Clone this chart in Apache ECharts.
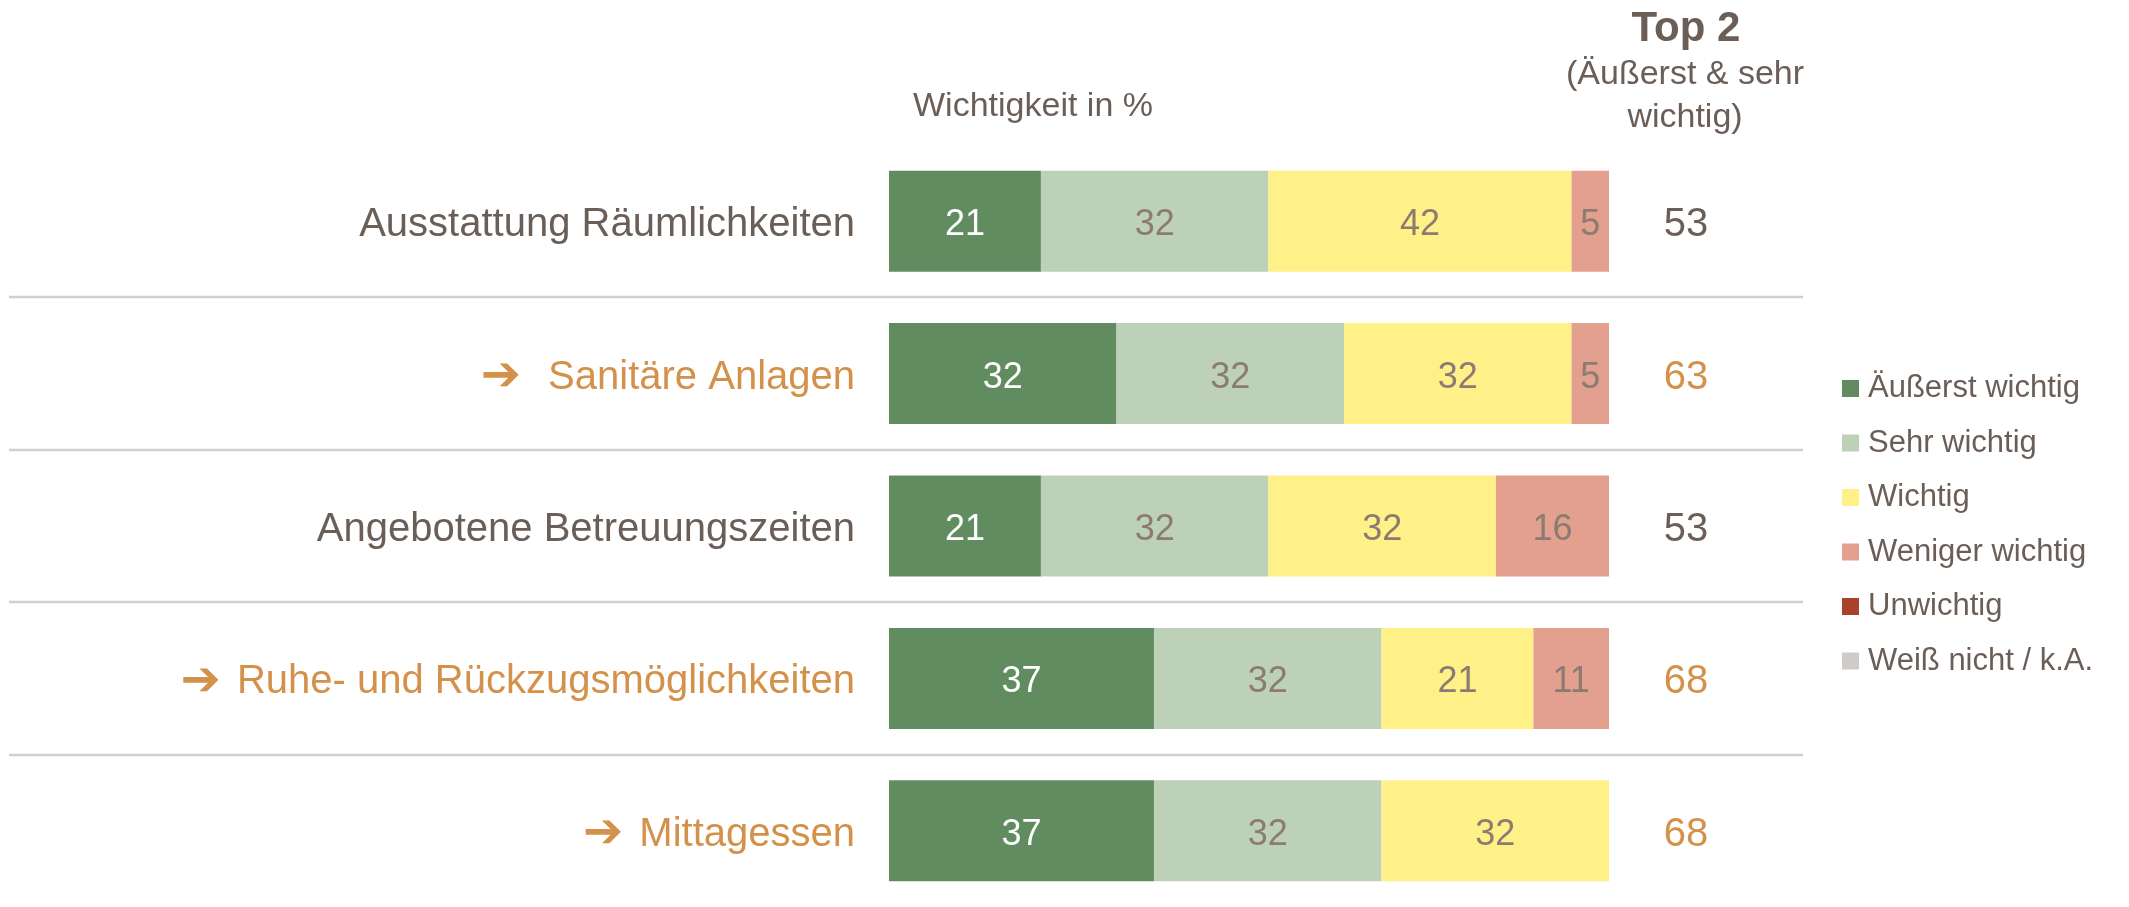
<!DOCTYPE html>
<html>
<head>
<meta charset="utf-8">
<title>Wichtigkeit</title>
<script src="https://cdn.jsdelivr.net/npm/echarts@6/dist/echarts.min.js"></script>
<style>
    html, body { margin: 0; padding: 0; background: #fff; }
    #chart { width: 2129px; height: 907px; }
</style>
</head>
<body>
<div id="chart"></div>
<script>
// Kategorien (von oben nach unten)
var categories = ['Ausstattung Räumlichkeiten', 'Sanitäre Anlagen', 'Angebotene Betreuungszeiten', 'Ruhe- und Rückzugsmöglichkeiten', 'Mittagessen'];
var highlighted = [false, true, false, true, true];
var seriesNames = ['Äußerst wichtig', 'Sehr wichtig', 'Wichtig', 'Weniger wichtig', 'Unwichtig', 'Weiß nicht / k.A.'];

// Anteile in %
var aeusserstWichtig = [21.1, 31.6, 21.1, 36.8, 36.8];
var sehrWichtig = [31.6, 31.6, 31.6, 31.6, 31.6];
var wichtig = [42.1, 31.6, 31.6, 21.1, 31.6];
var wenigerWichtig = [5.3, 5.3, 15.8, 10.5, 0];
var unwichtig = [0, 0, 0, 0, 0];
var weissNicht = [0, 0, 0, 0, 0];

// Top 2 (Äußerst & sehr wichtig)
var top2 = [53, 63, 53, 68, 68];

var FONT = "'Liberation Sans', Arial, sans-serif";
var GREY = '#6b5e57';
var ORANGE = '#d4914a';
var colors = ['#608c5f', '#bdd1b9', '#fff087', '#e3a08f', '#a8422b', '#d0cbc8'];
var labelColors = ['#ffffff', '#8b7b72', '#8b7b72', '#8b7b72', '#ffffff', '#8b7b72'];

var chart = echarts.init(document.getElementById('chart'));

function makeSeries(idx, data) {
    return {
        name: seriesNames[idx],
        type: 'bar',
        stack: 'total',
        barWidth: 101,
        data: data,
        itemStyle: { color: colors[idx] },
        label: {
            show: true,
            position: 'inside',
            offset: [0, 4],
            fontFamily: FONT,
            fontSize: 36,
            color: labelColors[idx],
            formatter: function (p) {
                return p.value > 0 ? Math.round(p.value) : '';
            }
        }
    };
}

var option = {
    backgroundColor: '#ffffff',
    animation: false,
    grid: { left: 889, width: 720, top: 145, height: 765, containLabel: false },
    legend: {
        data: seriesNames,
        orient: 'vertical',
        left: 1842,
        top: 373,
        itemWidth: 17,
        itemHeight: 17,
        itemGap: 23.5,
        padding: 0,
        icon: 'rect',
        selectedMode: false,
        textStyle: { fontFamily: FONT, fontSize: 31, color: GREY, padding: [0, 0, 0, 4] }
    },
    xAxis: {
        type: 'value',
        min: 0,
        max: 100,
        show: false
    },
    yAxis: [
        {
            type: 'category',
            inverse: true,
            data: categories,
            axisLine: { show: false },
            axisTick: { show: false },
            axisLabel: {
                margin: 34,
                padding: [8, 0, 0, 0],
                formatter: function (value, index) {
                    if (highlighted[index]) {
                        var gap = index === 1 ? '  ' : ' ';
                        return '{arrow|➔}' + '{hl|' + gap + value + '}';
                    }
                    return '{txt|' + value + '}';
                },
                rich: {
                    txt: { fontFamily: FONT, fontSize: 40, color: GREY },
                    hl: { fontFamily: FONT, fontSize: 40, color: ORANGE },
                    arrow: { fontFamily: 'DejaVu Sans', fontSize: 48, color: ORANGE, padding: [0, 5, 0, 0] }
                }
            }
        },
        {
            type: 'category',
            inverse: true,
            position: 'right',
            data: categories,
            axisLine: { show: false },
            axisTick: { show: false },
            axisLabel: {
                margin: 77,
                align: 'center',
                padding: [8, 0, 0, 0],
                fontFamily: FONT,
                fontSize: 40,
                formatter: function (value, index) {
                    return (highlighted[index] ? '{hl|' : '{txt|') + top2[index] + '}';
                },
                rich: {
                    txt: { fontFamily: FONT, fontSize: 40, color: GREY },
                    hl: { fontFamily: FONT, fontSize: 40, color: ORANGE }
                }
            }
        }
    ],
    series: [
        makeSeries(0, aeusserstWichtig),
        makeSeries(1, sehrWichtig),
        makeSeries(2, wichtig),
        makeSeries(3, wenigerWichtig),
        makeSeries(4, unwichtig),
        makeSeries(5, weissNicht)
    ]
};

chart.setOption(option);

// Überschriften und Trennlinien
var graphics = [
    {
        type: 'text', x: 1033, y: 107,
        style: { text: 'Wichtigkeit in %', font: '34px ' + FONT, fill: GREY, textAlign: 'center', textVerticalAlign: 'middle' }
    },
    {
        type: 'text', x: 1686, y: 29,
        style: { text: 'Top 2', font: 'bold 42px ' + FONT, fill: GREY, textAlign: 'center', textVerticalAlign: 'middle' }
    },
    {
        type: 'text', x: 1685, y: 96,
        style: { text: '(Äußerst & sehr\nwichtig)', font: '34px ' + FONT, lineHeight: 43, fill: GREY, textAlign: 'center', textVerticalAlign: 'middle' }
    }
];
for (var i = 0; i < categories.length - 1; i++) {
    var y1 = chart.convertToPixel({ yAxisIndex: 0 }, i);
    var y2 = chart.convertToPixel({ yAxisIndex: 0 }, i + 1);
    var y = Math.round((y1 + y2) / 2);
    graphics.push({
        type: 'line',
        shape: { x1: 9, y1: y, x2: 1803, y2: y },
        style: { stroke: '#d3cec9', lineWidth: 2.5 }
    });
}
chart.setOption({ graphic: graphics });
</script>
</body>
</html>
